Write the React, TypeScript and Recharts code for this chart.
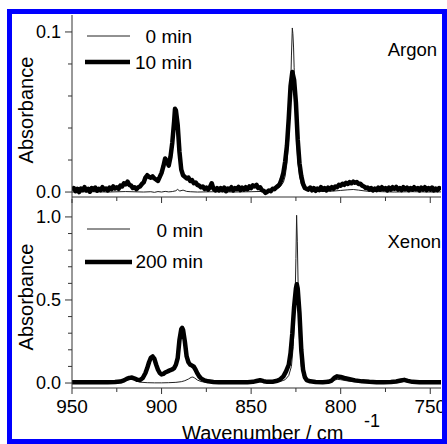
import { Line, LineChart, XAxis, YAxis } from "recharts";

const FONT = '"Liberation Sans", Arial, Helvetica, sans-serif';
const AXIS = "#333";
const INK = "#000";

// wavenumber axis (reversed, 950 on the left)
const X_DOMAIN: [number, number] = [744, 950];
const X_TICKS = [950, 925, 900, 875, 850, 825, 800, 775, 750];
const X_MAJOR = [950, 900, 850, 800, 750];

// absorbance axes
const ARGON_DOMAIN: [number, number] = [-0.0031, 0.1106];
const ARGON_TICKS = [0, 0.02, 0.04, 0.06, 0.08, 0.1];
const ARGON_MAJOR = [0, 0.1];
const XENON_DOMAIN: [number, number] = [-0.03, 1.108];
const XENON_TICKS = [0, 0.1, 0.2, 0.3, 0.4, 0.5, 0.6, 0.7, 0.8, 0.9, 1.0];
const XENON_MAJOR = [0, 0.5, 1];

// [wavenumber, absorbance]
const argon0: [number, number][] = [
  [950, 0.0], [940, 0.0002], [930, 0.0], [920, 0.0003], [910, 0.0], [906, 0.0002],
  [904, -0.0002], [902, 0.0003], [900, 0.0], [898, 0.0004], [896, 0.0001], [894, 0.0003],
  [892, 0.0008], [891, 0.0018], [890, 0.0006], [888, 0.0012], [886, 0.0004], [884, 0.0002],
  [880, 0.0], [870, 0.0002], [860, 0.0], [850, 0.0002], [840, 0.0005], [836, 0.0015],
  [834, 0.003], [832, 0.006], [831, 0.01], [830, 0.018], [829, 0.033], [828, 0.062],
  [827.5, 0.085], [827, 0.1025], [826.7, 0.099], [826.3, 0.09], [826, 0.078], [825, 0.042],
  [824, 0.02], [823, 0.01], [822, 0.005], [820, 0.002], [816, 0.0008], [810, 0.0003],
  [804, 0.0006], [800, 0.001], [796, 0.0014], [793, 0.0016], [790, 0.0012], [786, 0.0006],
  [780, 0.0003], [770, 0.0], [760, 0.0002], [750, 0.0], [744, 0.0001],
];

const argon10: [number, number][] = [
  [950, 0.001], [949, 0.0025], [948, 0.0005], [947, 0.002], [946, 0.0], [945, 0.0022],
  [944, 0.0012], [943, 0.003], [942, 0.001], [941, 0.002], [940, 0.0002], [939, 0.0025],
  [938, 0.0015], [937, 0.0028], [936, 0.0008], [935, 0.002], [934, 0.0012], [933, 0.003],
  [932, 0.0015], [931, 0.0022], [930, 0.001], [929, 0.0028], [928, 0.0018], [927, 0.0035],
  [926, 0.0022], [925, 0.003], [924, 0.002], [923, 0.004], [922, 0.0035], [921, 0.0055],
  [920, 0.0048], [919, 0.0065], [918, 0.0045], [917, 0.004], [916, 0.0025], [915, 0.003],
  [914, 0.0018], [913, 0.003], [912, 0.0035], [911, 0.005], [910, 0.006], [909, 0.009],
  [908, 0.0105], [907, 0.0095], [906, 0.009], [905, 0.0098], [904, 0.0085], [903, 0.0078],
  [902, 0.007], [901, 0.0095], [900, 0.012], [899, 0.016], [898, 0.021], [897, 0.019],
  [896, 0.0165], [895, 0.022], [894, 0.031], [893, 0.044], [892.5, 0.052], [892, 0.051],
  [891, 0.042], [890, 0.025], [889, 0.014], [888, 0.0105], [887, 0.0095], [886, 0.0085],
  [885, 0.009], [884, 0.007], [883, 0.0075], [882, 0.0055], [881, 0.006], [880, 0.0045],
  [879, 0.004], [878, 0.003], [877, 0.0035], [876, 0.002], [875, 0.0028], [874, 0.0015],
  [873, 0.003], [872, 0.0055], [871, 0.002], [870, 0.001], [869, 0.0025], [868, 0.001],
  [867, 0.0025], [866, 0.0012], [865, 0.0028], [864, 0.0005], [863, 0.0022], [862, 0.0015],
  [861, 0.003], [860, 0.001], [859, 0.0025], [858, 0.0018], [857, 0.0032], [856, 0.0012],
  [855, 0.0028], [854, 0.0015], [853, 0.003], [852, 0.0018], [851, 0.0035], [850, 0.0025],
  [849, 0.0042], [848, 0.0035], [847, 0.0045], [846, 0.0025], [845, 0.003], [844, 0.0012],
  [843, 0.0008], [842, -0.0005], [841, 0.0002], [840, 0.001], [839, 0.0005], [838, 0.002],
  [837, 0.0018], [836, 0.003], [835, 0.0038], [834, 0.005], [833, 0.008], [832, 0.012],
  [831, 0.019], [830, 0.029], [829, 0.046], [828, 0.066], [827, 0.075], [826, 0.07],
  [825, 0.056], [824, 0.033], [823, 0.018], [822, 0.01], [821, 0.005], [820, 0.0025],
  [819, 0.002], [818, 0.0015], [817, 0.0028], [816, 0.001], [815, 0.0025], [814, 0.0008],
  [813, 0.0022], [812, 0.0012], [811, 0.003], [810, 0.0015], [809, 0.0025], [808, 0.001],
  [807, 0.0028], [806, 0.0018], [805, 0.003], [804, 0.002], [803, 0.0035], [802, 0.003],
  [801, 0.0045], [800, 0.004], [799, 0.0052], [798, 0.0045], [797, 0.0058], [796, 0.005],
  [795, 0.0062], [794, 0.0055], [793, 0.0065], [792, 0.0058], [791, 0.0062], [790, 0.005],
  [789, 0.0052], [788, 0.004], [787, 0.0035], [786, 0.0025], [785, 0.0028], [784, 0.0015],
  [783, 0.0025], [782, 0.001], [781, 0.0022], [780, 0.0012], [779, 0.0028], [778, 0.0015],
  [777, 0.003], [776, 0.0018], [775, 0.0025], [774, 0.001], [773, 0.0028], [772, 0.0015],
  [771, 0.003], [770, 0.002], [769, 0.0032], [768, 0.0015], [767, 0.0025], [766, 0.0012],
  [765, 0.003], [764, 0.0018], [763, 0.0028], [762, 0.0012], [761, 0.0025], [760, 0.0015],
  [759, 0.003], [758, 0.0018], [757, 0.0025], [756, 0.001], [755, 0.0028], [754, 0.0015],
  [753, 0.003], [752, 0.0012], [751, 0.0025], [750, 0.0015], [749, 0.0028], [748, 0.001],
  [747, 0.0022], [746, 0.0012], [745, 0.0025], [744, 0.0015],
];

const xenon0: [number, number][] = [
  [950, 0.0], [940, 0.001], [930, 0.0], [924, 0.002], [921, 0.01], [919, 0.022],
  [917.5, 0.028], [916, 0.024], [914, 0.012], [912, 0.005], [908, 0.002], [904, 0.001],
  [900, 0.001], [896, 0.002], [892, 0.004], [889, 0.008], [887, 0.014], [885, 0.024],
  [883.5, 0.034], [882.5, 0.036], [881.5, 0.03], [880, 0.018], [878, 0.009], [875, 0.004],
  [870, 0.002], [860, 0.001], [850, 0.002], [847, 0.006], [845, 0.01], [843, 0.005],
  [838, 0.003], [834, 0.008], [831, 0.02], [829, 0.045], [827.5, 0.1], [826.5, 0.22],
  [825.5, 0.48], [825, 0.75], [824.6, 1.01], [824.2, 0.85], [823.6, 0.5], [823, 0.26],
  [822, 0.1], [821, 0.045], [819, 0.015], [815, 0.005], [810, 0.003], [806, 0.006],
  [804, 0.015], [802, 0.022], [800, 0.02], [797, 0.014], [793, 0.008], [788, 0.004],
  [780, 0.002], [770, 0.003], [766, 0.007], [764.5, 0.01], [763, 0.007], [758, 0.002],
  [750, 0.001], [744, 0.001],
];

const xenon200: [number, number][] = [
  [950, 0.004], [946, 0.005], [942, 0.004], [938, 0.005], [934, 0.004], [930, 0.005],
  [926, 0.006], [923, 0.009], [921, 0.016], [919.5, 0.025], [918, 0.031], [916.5, 0.033],
  [915, 0.027], [913.5, 0.019], [912, 0.018], [910.5, 0.03], [909, 0.06], [908, 0.09],
  [907, 0.125], [906, 0.152], [905, 0.16], [904, 0.145], [903, 0.11], [902, 0.08],
  [901, 0.06], [900, 0.052], [899, 0.055], [898, 0.063], [897, 0.068], [896, 0.073],
  [895, 0.078], [894, 0.082], [893, 0.09], [892, 0.11], [891, 0.15], [890, 0.26],
  [889, 0.325], [888.5, 0.332], [888, 0.32], [887, 0.25], [886, 0.16], [885, 0.125],
  [884, 0.11], [883, 0.105], [882, 0.098], [881, 0.08], [880, 0.058], [879, 0.04],
  [878, 0.028], [876, 0.016], [874, 0.01], [871, 0.006], [868, 0.005], [864, 0.004],
  [860, 0.004], [856, 0.005], [852, 0.005], [849, 0.007], [847, 0.012], [845, 0.017],
  [843, 0.011], [841, 0.007], [838, 0.008], [836, 0.012], [834, 0.02], [832, 0.04],
  [830.5, 0.07], [829, 0.11], [828, 0.18], [827, 0.3], [826, 0.46], [825, 0.57],
  [824.5, 0.595], [824, 0.57], [823, 0.42], [822, 0.2], [821, 0.08], [820, 0.035],
  [819, 0.018], [817, 0.01], [814, 0.006], [810, 0.005], [807, 0.007], [805, 0.015],
  [803.5, 0.032], [802, 0.04], [800, 0.036], [798, 0.03], [795, 0.023], [792, 0.016],
  [788, 0.01], [784, 0.007], [780, 0.005], [776, 0.005], [772, 0.006], [769, 0.009],
  [766.5, 0.015], [764.5, 0.019], [762.5, 0.013], [760, 0.007], [756, 0.005], [752, 0.004],
  [748, 0.004], [744, 0.004],
];

const rows = (pts: [number, number][]) => pts.map(([wn, a]) => ({ wn, a }));

const isIn = (list: number[], v: number) => list.some(m => Math.abs(m - v) < 1e-6);

/** Left axis tick: long with label for majors, short for minors. */
function YTick(props: any) {
  const { x, y, payload, major } = props;
  const big = isIn(major, payload.value);
  const len = big ? 7 : 4;
  return (
    <g>
      <line x1={x - len} x2={x} y1={y} y2={y} stroke={AXIS} strokeWidth={1} />
      {big ? (
        <text
          x={x - len - 4}
          y={y}
          textAnchor="end"
          dominantBaseline="central"
          fontSize={18}
          fontFamily={FONT}
          fill={INK}
        >
          {payload.value.toFixed(1)}
        </text>
      ) : null}
    </g>
  );
}

/** Bottom axis tick, labels optional (the upper panel has none). */
function XTick(props: any) {
  const { x, y, payload, labels } = props;
  const big = isIn(X_MAJOR, payload.value);
  const len = big ? 6 : 4;
  return (
    <g>
      <line x1={x} x2={x} y1={y} y2={y + len} stroke={AXIS} strokeWidth={1} />
      {labels && big ? (
        <text x={x} y={y + 25} textAnchor="middle" fontSize={19} fontFamily={FONT} fill={INK}>
          {payload.value}
        </text>
      ) : null}
    </g>
  );
}

function Panel(props: {
  height: number;
  top: number;
  xAxisHeight: number;
  domain: [number, number];
  ticks: number[];
  major: number[];
  thin: [number, number][];
  thick: [number, number][];
  labels: boolean;
}) {
  const { height, top, xAxisHeight, domain, ticks, major, thin, thick, labels } = props;
  return (
    <LineChart width={447} height={height} margin={{ top, right: 6, bottom: 0, left: 0 }}>
      <XAxis
        dataKey="wn"
        type="number"
        domain={X_DOMAIN}
        reversed
        allowDataOverflow
        ticks={X_TICKS}
        interval={0}
        height={xAxisHeight}
        tickSize={0}
        tickMargin={0}
        tickLine={false}
        axisLine={{ stroke: AXIS }}
        tick={<XTick labels={labels} />}
      />
      <YAxis
        type="number"
        domain={domain}
        allowDataOverflow
        ticks={ticks}
        interval={0}
        width={72}
        tickSize={0}
        tickMargin={0}
        tickLine={false}
        axisLine={{ stroke: AXIS }}
        tick={<YTick major={major} />}
      />
      <Line
        data={rows(thin)}
        dataKey="a"
        type="linear"
        stroke="#222"
        strokeWidth={1}
        dot={false}
        isAnimationActive={false}
      />
      <Line
        data={rows(thick)}
        dataKey="a"
        type="linear"
        stroke={INK}
        strokeWidth={4.5}
        strokeLinejoin="round"
        dot={false}
        isAnimationActive={false}
      />
    </LineChart>
  );
}

export default function App() {
  const txt = { fontFamily: FONT, fill: INK } as const;
  return (
    <div
      style={{
        position: "absolute",
        left: 0,
        top: 0,
        width: 447,
        height: 444,
        background: "#fff",
        overflow: "hidden",
      }}
    >
      <div style={{ position: "absolute", left: 0, top: 0 }}>
        <Panel
          height={215}
          top={15}
          xAxisHeight={18}
          domain={ARGON_DOMAIN}
          ticks={ARGON_TICKS}
          major={ARGON_MAJOR}
          thin={argon0}
          thick={argon10}
          labels={false}
        />
      </div>
      <div style={{ position: "absolute", left: 0, top: 190 }}>
        <Panel
          height={254}
          top={9}
          xAxisHeight={56}
          domain={XENON_DOMAIN}
          ticks={XENON_TICKS}
          major={XENON_MAJOR}
          thin={xenon0}
          thick={xenon200}
          labels
        />
      </div>

      <svg
        width={447}
        height={444}
        style={{ position: "absolute", left: 0, top: 0, pointerEvents: "none" }}
      >
        {/* axis titles */}
        <text {...txt} fontSize={20} textAnchor="middle" dominantBaseline="central" transform="translate(26,110) rotate(-90)">
          Absorbance
        </text>
        <text {...txt} fontSize={20} textAnchor="middle" dominantBaseline="central" transform="translate(26,297) rotate(-90)">
          Absorbance
        </text>
        <text {...txt} x={182} y={440} fontSize={20}>
          Wavenumber / cm
        </text>
        <text {...txt} x={364} y={427} fontSize={18}>
          -1
        </text>

        {/* matrix names */}
        <text {...txt} x={437} y={49} fontSize={18.5} textAnchor="end" dominantBaseline="central">
          Argon
        </text>
        <text {...txt} x={441} y={241} fontSize={18.5} textAnchor="end" dominantBaseline="central">
          Xenon
        </text>

        {/* legends */}
        <line x1={87} x2={130} y1={36} y2={36} stroke="#222" strokeWidth={1} />
        <text {...txt} x={192} y={36} fontSize={19} textAnchor="end" dominantBaseline="central">
          0 min
        </text>
        <line x1={85} x2={130} y1={62} y2={62} stroke={INK} strokeWidth={4.5} />
        <text {...txt} x={192} y={62} fontSize={19} textAnchor="end" dominantBaseline="central">
          10 min
        </text>

        <line x1={87} x2={130} y1={229} y2={229} stroke="#222" strokeWidth={1} />
        <text {...txt} x={203} y={230} fontSize={19} textAnchor="end" dominantBaseline="central">
          0 min
        </text>
        <line x1={85} x2={132} y1={262} y2={262} stroke={INK} strokeWidth={4.5} />
        <text {...txt} x={203} y={261} fontSize={19} textAnchor="end" dominantBaseline="central">
          200 min
        </text>
      </svg>

      {/* blue frame */}
      <div
        style={{
          position: "absolute",
          left: 7,
          top: 9,
          width: 440,
          height: 435,
          border: "5px solid #0000ff",
          boxSizing: "border-box",
          pointerEvents: "none",
        }}
      />
    </div>
  );
}
